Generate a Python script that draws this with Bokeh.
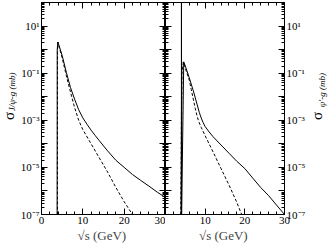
import math
from bokeh.plotting import figure
from bokeh.layouts import row
from bokeh.models import LogAxis, LinearAxis, FixedTicker, CustomJSTickFormatter, Range1d, Label
from bokeh.embed import file_html
from bokeh.resources import INLINE

FONT = "Liberation Serif"

# ---- data ----
x_major = [0, 10, 20, 30]
x_minor = [2, 4, 6, 8, 12, 14, 16, 18, 22, 24, 26, 28]
y_exponents = [-7, -6, -5, -4, -3, -2, -1, 0, 1, 2]

# J/psi - g  (left panel)
jpsi_solid_x = [3.78, 3.80, 3.97, 5, 6, 7, 8, 9, 10, 11, 12, 13, 14, 16, 18, 20, 22, 24, 26, 28, 30]
jpsi_solid_y = [1e-7, 1.0, 2.1, 5.6e-1, 1.1e-1, 2.5e-2, 7.9e-3, 2.8e-3, 1.26e-3, 6.8e-4, 3.8e-4,
                2.24e-4, 1.35e-4, 5.0e-5, 2.0e-5, 1.0e-5, 5.0e-6, 2.8e-6, 1.6e-6, 8.9e-7, 5.2e-7]
jpsi_dash_x = [3.86, 3.88, 3.97, 5, 6, 7, 8, 9, 10, 12, 14, 16, 18, 20, 22]
jpsi_dash_y = [1e-7, 1.0, 2.0, 4.5e-1, 7.9e-2, 1.6e-2, 3.5e-3, 1.0e-3, 4.0e-4, 1.0e-4, 2.5e-5,
               6.3e-6, 1.4e-6, 3.5e-7, 1.0e-7]

# psi' - g  (right panel)
psi2_solid_x = [4.0, 4.02, 4.06, 4.6, 5, 6, 7, 8, 8.5, 9, 9.5, 10, 11, 12, 14, 16, 18, 20, 22,
                24, 26, 28, 30]
psi2_solid_y = [1e-7, 1e3, 1e-7, 3.0e-1, 2.0e-1, 6.3e-2, 1.8e-2, 4.5e-3, 2.2e-3, 1.26e-3, 7.9e-4,
                5.4e-4, 3.2e-4, 2.0e-4, 8.9e-5, 4.0e-5, 1.8e-5, 8.9e-6, 3.5e-6, 1.4e-6, 6.3e-7,
                2.5e-7, 1.0e-7]
psi2_dash_x = [3.85, 4.1, 3.95, 4.15, 4.55, 5, 6, 6.5, 7, 7.5, 8, 8.5, 9, 10, 12, 14, 16, 18, 19.2]
psi2_dash_y = [1e-7, 3e-1, 1e-7, 1e-1, 3.0e-1, 1.6e-1, 5.0e-2, 2.0e-2, 7.9e-3, 3.2e-3, 1.4e-3,
               7.9e-4, 5.0e-4, 2.2e-4, 4.5e-5, 8.9e-6, 1.8e-6, 3.2e-7, 1.0e-7]

y_major = [10.0 ** e for e in y_exponents]
y_minor = [m * 10.0 ** e for e in y_exponents[:-1] for m in range(2, 10)]

sup_js = """
const e = Math.round(Math.log10(tick));
if (Math.abs(e) % 2 == 0) return "";
const sup = {"-":"\\u207b","0":"\\u2070","1":"\\u00b9","2":"\\u00b2","3":"\\u00b3",
             "4":"\\u2074","5":"\\u2075","6":"\\u2076","7":"\\u2077","8":"\\u2078","9":"\\u2079"};
let s = "";
for (const c of String(e)) s += sup[c];
return "10" + s;
"""


def style_axis(ax, labels=True):
    ax.axis_line_color = "black"
    ax.major_tick_line_color = "black"
    ax.minor_tick_line_color = "black"
    ax.major_tick_in = 6
    ax.major_tick_out = 0
    ax.minor_tick_in = 3
    ax.minor_tick_out = 0
    ax.major_label_text_font = FONT
    ax.major_label_text_color = "black"
    ax.major_label_text_font_size = "11px"
    if labels:
        ax.major_label_standoff = 2
    else:
        ax.formatter = CustomJSTickFormatter(code='return "";')
        ax.major_label_standoff = 0


def yticker():
    return FixedTicker(ticks=y_major, minor_ticks=y_minor)


def xticker():
    return FixedTicker(ticks=x_major, minor_ticks=x_minor)


def panel(side, sx, sy, dx, dy, width, border):
    left = side == "left"
    p = figure(width=width, height=245, x_range=Range1d(0, 30), y_range=Range1d(1e-7, 1e2),
               y_axis_type="log", y_axis_location=side, output_backend="svg",
               toolbar_location=None,
               min_border_left=border if left else 0, min_border_right=0 if left else border,
               min_border_top=2, min_border_bottom=30)
    p.xgrid.visible = False
    p.ygrid.visible = False
    p.outline_line_color = "black"
    p.background_fill_color = "white"
    p.border_fill_color = "white"

    ya = p.yaxis[0]
    ya.ticker = yticker()
    ya.formatter = CustomJSTickFormatter(code=sup_js)
    style_axis(ya)
    ya.major_label_standoff = 2

    xa = p.xaxis[0]
    xa.ticker = xticker()
    style_axis(xa)
    if not left:
        xa.major_label_overrides = {0: ""}
    xa.axis_label = "\u221as  (GeV)"
    xa.axis_label_text_font = FONT
    xa.axis_label_text_font_style = "normal"
    xa.axis_label_text_font_size = "13px"
    xa.axis_label_standoff = 1

    oy = LogAxis(ticker=yticker())
    style_axis(oy, labels=False)
    p.add_layout(oy, "right" if left else "left")
    tx = LinearAxis(ticker=xticker())
    style_axis(tx, labels=False)
    p.add_layout(tx, "above")

    p.line(sx, sy, line_color="black", line_width=1)
    p.line(dx, dy, line_color="black", line_width=1, line_dash="3 2")
    return p


def title_strip(width, sigma_x, sub_x, sub_y, sub):
    t = figure(width=width, height=245, x_range=Range1d(0, width), y_range=Range1d(245, 0),
               output_backend="svg", toolbar_location=None,
               x_axis_location=None, y_axis_location=None,
               min_border_left=0, min_border_right=0, min_border_top=0, min_border_bottom=0)
    t.xgrid.visible = False
    t.ygrid.visible = False
    t.outline_line_color = None
    t.background_fill_color = "white"
    t.border_fill_color = "white"
    t.add_layout(Label(x=sigma_x, y=131, text="\u03c3", angle=math.pi / 2,
                       text_font=FONT, text_font_size="15px", text_align="center",
                       text_baseline="middle", text_color="black"))
    t.add_layout(Label(x=sub_x, y=sub_y, text=sub, angle=math.pi / 2,
                       text_font=FONT, text_font_size="9px", text_font_style="italic",
                       text_align="center", text_baseline="middle", text_color="black"))
    return t


tl = title_strip(17, 8.5, 11.5, 102, "J/\u03c8-g  (mb)")
pl = panel("left", jpsi_solid_x, jpsi_solid_y, jpsi_dash_x, jpsi_dash_y, 148, 23)
pr = panel("right", psi2_solid_x, psi2_solid_y, psi2_dash_x, psi2_dash_y, 143, 19)
tr = title_strip(22, 8.5, 13, 100, "\u03c8'-g  (mb)")

layout = row(tl, pl, pr, tr, spacing=0)

open("out.html", "w").write(file_html(layout, INLINE))
